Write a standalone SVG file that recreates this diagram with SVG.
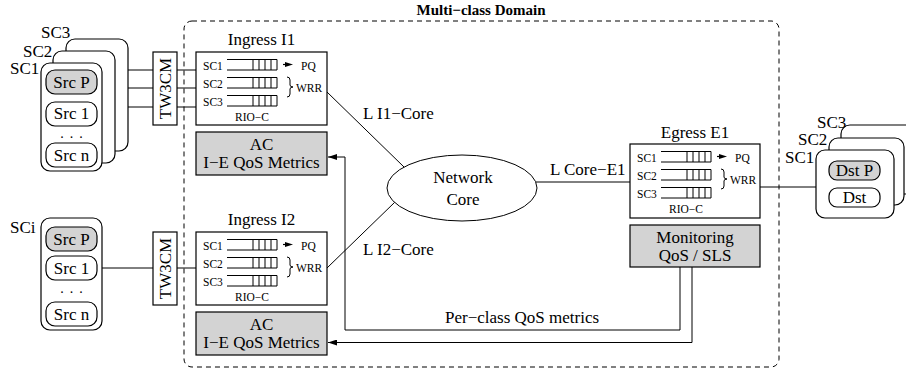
<svg xmlns="http://www.w3.org/2000/svg" width="906" height="374" viewBox="0 0 906 374">
  <style>
    text { font-family: "Liberation Serif", "Times New Roman", serif; fill: #000; }
    .big { font-size: 17px; }
    .small { font-size: 11.5px; }
    .dots { font-size: 14px; text-anchor: middle; letter-spacing: 6px; }
    .mid { text-anchor: middle; }
    .title { font-size: 15px; font-weight: bold; text-anchor: middle; }
    .box { fill: #fff; stroke: #000; stroke-width: 1.2; }
    .grey { fill: #d3d3d3; stroke: #000; stroke-width: 1.2; }
    .ln { fill: none; stroke: #000; stroke-width: 1; }
    .q { fill: none; stroke: #000; stroke-width: 1; }
  </style>
  <defs>
    <!-- RIO-C queue: open-ended buffer with four cells at the head -->
    <g id="queue" class="q">
      <path d="M0,-10.5H50M0,0H50M26,-10.5V0M32,-10.5V0M38,-10.5V0M44,-10.5V0M50,-10.5V0"/>
    </g>
    <!-- small PQ pointer -->
    <g id="pq-arrow">
      <path d="M0,0H5" stroke="#000" stroke-width="1.2"/>
      <path d="M2,-2.6L10,0L2,2.6Z" fill="#000"/>
    </g>
    <!-- right curly brace, 20 high -->
    <path id="brace" d="M0,0q3,0 3,3v5q0,2 3,2q-3,0 -3,2v5q0,3 -3,3" fill="none" stroke="#000" stroke-width="1"/>
    <marker id="arrow" markerWidth="10" markerHeight="6" refX="9" refY="3" orient="auto" markerUnits="userSpaceOnUse">
      <path d="M0,0L9,3L0,6Z" fill="#000"/>
    </marker>
  </defs>

  <!-- domain boundary -->
  <g id="domain">
    <rect x="184" y="21" width="595" height="346" rx="8" fill="none" stroke="#000" stroke-width="1" stroke-dasharray="5,4"/>
    <text class="title" x="481" y="15">Multi−class Domain</text>
  </g>

  <!-- connectors -->
  <g id="connectors">
    <path class="ln" d="M128,70H153M177,70H196"/>
    <path class="ln" d="M115,88H153M177,88H196"/>
    <path class="ln" d="M102,107H153M177,107H196"/>
    <path class="ln" d="M102,268H153M177,268H196"/>
    <path class="ln" d="M327,92L404,167"/>
    <path class="ln" d="M327,268L395,202"/>
    <path class="ln" d="M536,182H630"/>
    <path class="ln" d="M760,187H816"/>
    <path class="ln" d="M680,267V330H345V157H328" marker-end="url(#arrow)"/>
    <path class="ln" d="M692,267V342.5H328" marker-end="url(#arrow)"/>
    <text class="big" x="363" y="119">L I1−Core</text>
    <text class="big" x="363" y="255">L I2−Core</text>
    <text class="big" x="550" y="175">L Core−E1</text>
    <text class="big" x="445" y="323">Per−class QoS metrics</text>
  </g>

  <!-- sources, service classes SC1..SC3 -->
  <g id="sources-sc">
    <rect class="box" x="66" y="39" width="62" height="112" rx="9"/>
    <rect class="box" x="53" y="51" width="62" height="112" rx="9"/>
    <rect class="box" x="41" y="63" width="61" height="108" rx="9"/>
    <text class="big" x="41" y="38">SC3</text>
    <text class="big" x="23" y="57">SC2</text>
    <text class="big" x="10" y="74">SC1</text>
    <rect class="grey" x="46" y="70" width="51" height="24" rx="9"/>
    <text class="big mid" x="71.5" y="88">Src P</text>
    <rect class="box" x="46" y="102" width="51" height="24" rx="9"/>
    <text class="big mid" x="71.5" y="119">Src 1</text>
    <text class="dots" x="74.5" y="138">...</text>
    <rect class="box" x="46" y="143" width="51" height="24" rx="9"/>
    <text class="big mid" x="71.5" y="161">Src n</text>
  </g>

  <!-- sources, service class SCi -->
  <g id="sources-sci">
    <rect class="box" x="41" y="218" width="61" height="112" rx="9"/>
    <text class="big" x="10" y="233">SCi</text>
    <rect class="grey" x="46" y="227" width="51" height="24" rx="9"/>
    <text class="big mid" x="71.5" y="245">Src P</text>
    <rect class="box" x="46" y="256" width="51" height="24" rx="9"/>
    <text class="big mid" x="71.5" y="274">Src 1</text>
    <text class="dots" x="74.5" y="293">...</text>
    <rect class="box" x="46" y="302" width="51" height="24" rx="9"/>
    <text class="big mid" x="71.5" y="320">Src n</text>
  </g>

  <!-- traffic meters -->
  <g id="tw3cm-1">
    <rect class="box" x="153" y="52" width="24" height="73"/>
    <text class="big mid" transform="translate(171,88.5) rotate(-90)">TW3CM</text>
  </g>
  <g id="tw3cm-2">
    <rect class="box" x="153" y="232" width="24" height="73"/>
    <text class="big mid" transform="translate(171,268.5) rotate(-90)">TW3CM</text>
  </g>

  <!-- ingress I1 -->
  <g id="ingress-i1">
    <text class="big mid" x="261.5" y="45">Ingress I1</text>
    <rect class="box" x="196" y="52" width="131" height="73"/>
    <text class="small" x="203" y="70">SC1</text>
    <text class="small" x="203" y="88">SC2</text>
    <text class="small" x="203" y="106">SC3</text>
    <use href="#queue" x="227" y="70"/>
    <use href="#queue" x="227" y="88"/>
    <use href="#queue" x="227" y="106"/>
    <use href="#pq-arrow" x="283" y="64.5"/>
    <text class="small" x="301" y="70">PQ</text>
    <use href="#brace" x="287" y="77"/>
    <text class="small" x="296" y="92">WRR</text>
    <text class="small mid" x="252" y="121">RIO−C</text>
  </g>
  <g id="ac-i1">
    <rect class="grey" x="196" y="132" width="131" height="43"/>
    <text class="big mid" x="261.5" y="150">AC</text>
    <text class="big mid" x="261.5" y="168">I−E QoS Metrics</text>
  </g>

  <!-- ingress I2 -->
  <g id="ingress-i2">
    <text class="big mid" x="261.5" y="225">Ingress I2</text>
    <rect class="box" x="196" y="232" width="131" height="73"/>
    <text class="small" x="203" y="250">SC1</text>
    <text class="small" x="203" y="268">SC2</text>
    <text class="small" x="203" y="286">SC3</text>
    <use href="#queue" x="227" y="250"/>
    <use href="#queue" x="227" y="268"/>
    <use href="#queue" x="227" y="286"/>
    <use href="#pq-arrow" x="283" y="244.5"/>
    <text class="small" x="301" y="250">PQ</text>
    <use href="#brace" x="287" y="257"/>
    <text class="small" x="296" y="272">WRR</text>
    <text class="small mid" x="252" y="301">RIO−C</text>
  </g>
  <g id="ac-i2">
    <rect class="grey" x="196" y="312" width="131" height="43"/>
    <text class="big mid" x="261.5" y="330">AC</text>
    <text class="big mid" x="261.5" y="348">I−E QoS Metrics</text>
  </g>

  <!-- core -->
  <g id="network-core">
    <ellipse cx="462" cy="188" rx="75" ry="33" fill="#fff" stroke="#000" stroke-width="1"/>
    <text class="big mid" x="463" y="183">Network</text>
    <text class="big mid" x="463" y="205">Core</text>
  </g>

  <!-- egress E1 -->
  <g id="egress-e1">
    <text class="big mid" x="695" y="138">Egress E1</text>
    <rect class="box" x="630" y="144" width="130" height="74"/>
    <text class="small" x="637" y="162">SC1</text>
    <text class="small" x="637" y="180">SC2</text>
    <text class="small" x="637" y="198">SC3</text>
    <use href="#queue" x="661" y="162"/>
    <use href="#queue" x="661" y="180"/>
    <use href="#queue" x="661" y="198"/>
    <use href="#pq-arrow" x="717" y="156.5"/>
    <text class="small" x="735" y="162">PQ</text>
    <use href="#brace" x="721" y="169"/>
    <text class="small" x="730" y="184">WRR</text>
    <text class="small mid" x="686" y="213">RIO−C</text>
  </g>
  <g id="monitoring">
    <rect class="grey" x="630" y="225" width="130" height="42"/>
    <text class="big mid" x="695" y="243">Monitoring</text>
    <text class="big mid" x="695" y="261">QoS / SLS</text>
  </g>

  <!-- destinations -->
  <g id="destinations">
    <rect class="box" x="841" y="125" width="78" height="69" rx="9"/>
    <rect class="box" x="829" y="138" width="75" height="67" rx="9"/>
    <rect class="box" x="816" y="150" width="78" height="68" rx="9"/>
    <text class="big" x="817" y="128">SC3</text>
    <text class="big" x="798" y="145">SC2</text>
    <text class="big" x="785" y="163">SC1</text>
    <rect class="grey" x="829" y="161" width="51" height="19" rx="8"/>
    <text class="big mid" x="854.5" y="176">Dst P</text>
    <rect class="box" x="829" y="188" width="51" height="19" rx="8"/>
    <text class="big mid" x="854.5" y="203">Dst</text>
  </g>
</svg>
